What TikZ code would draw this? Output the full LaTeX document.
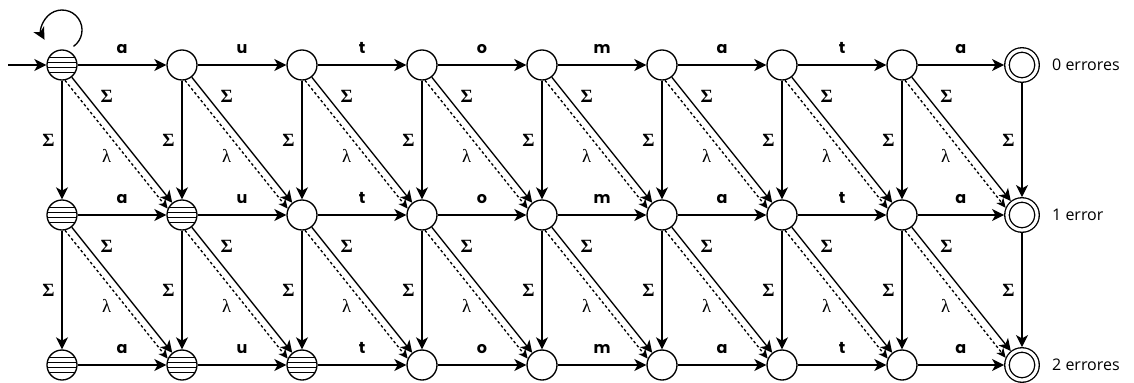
\documentclass[tikz,border=0pt]{standalone}
\usepackage{fontspec}
\newfontfamily\popp{Poppins}
\newfontfamily\opens{Open Sans}
\newfontfamily\grk{Liberation Serif}
\usetikzlibrary{arrows.meta, positioning, calc}

\begin{document}
\begin{tikzpicture}[x=0.75pt, y=-0.75pt,
        state/.style={circle, draw, line width=1pt, minimum size=22.5pt, inner sep=0pt, fill=white},
        hatched/.style={state, path picture={
                \foreach \h in {-5.6,-1.9,1.9,5.6}
                    \draw[line width=1pt] ([yshift=\h pt]path picture bounding box.west) -- ([yshift=\h pt]path picture bounding box.east);}},
        final/.style={state, double, double distance=2.4pt, outer sep=2.2pt},
        arr/.style={-{Stealth[length=9pt, width=9pt, inset=2.5pt]}, line width=1pt},
        eps/.style={-{Stealth[length=7pt, width=6.5pt, inset=2pt]}, line width=1pt, dash pattern=on 2pt off 1.8pt},
        sym/.style={font=\popp\bfseries\fontsize{12}{14}\selectfont, inner sep=0pt},
        greek/.style={font=\grk\fontsize{14}{16}\selectfont, inner sep=2pt},
        errlab/.style={font=\opens\fontsize{12}{14}\selectfont, inner sep=2pt},
    ]
        \useasboundingbox (0,0) rectangle (1134,382);

        % States (hatched below the diagonal)
        \foreach \r in {0,1,2}
            \foreach \c in {0,...,7} {
                \ifnum\c>\r
                    \node[state] (q\r-\c) at ({62+120*\c},{65+150*\r}) {};
                \else
                    \node[hatched] (q\r-\c) at ({62+120*\c},{65+150*\r}) {};
                \fi
            }

        % Final states
        \foreach \r in {0,1,2}
            \node[final] (q\r-8) at (1022,{65+150*\r}) {};
        \node[errlab, right=7pt of q0-8] (err0) {0 errores};
        \node[errlab, right=7pt of q1-8] (err1) {1 error};
        \node[errlab, right=7pt of q2-8] (err2) {2 errores};

        % Start arrow and loop
        \coordinate (start) at (8,65);
        \coordinate (loopst) at (73.5,46.4);
        \draw[arr] (start) -- (q0-0);
        \draw[arr] (loopst) arc[start angle=-55, end angle=209, radius=15pt];

        % Letters
        \foreach \r in {0,1,2}
            \foreach \c/\l in {0/a,1/u,2/t,3/o,4/m,5/a,6/t,7/a} {
                \pgfmathtruncatemacro\n{\c+1}
                \draw[arr] (q\r-\c) -- node[sym, midway, anchor=base, yshift=9pt] {\l} (q\r-\n);
            }

        % Insertions
        \foreach \r/\s in {0/1,1/2}
            \foreach \c in {0,...,8}
                \draw[arr] (q\r-\c) -- node[greek, left=3pt] {\bfseries Σ} (q\s-\c);

        % Substitutions and deletions
        \foreach \r/\s in {0/1,1/2}
            \foreach \c in {0,...,7} {
                \pgfmathtruncatemacro\n{\c+1}
                \draw[arr] (q\r-\c) -- node[greek, pos=0.24, above right=1.5pt] {\bfseries Σ} (q\s-\n);
                \draw[eps] (q\r-\c.-79) -- node[greek, pos=0.5, below left=2pt] {λ} (q\s-\n.156.5);
            }
    \end{tikzpicture}
\end{document}
